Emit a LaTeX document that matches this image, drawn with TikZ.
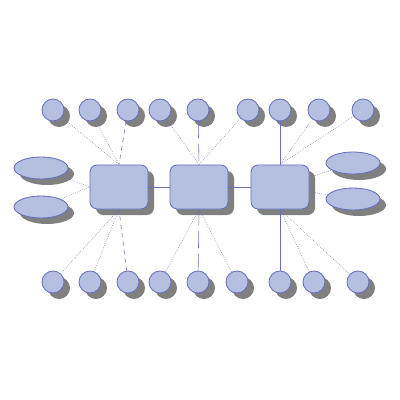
\documentclass[tikz,border=0pt]{standalone}
\usepackage{tikz}
\usetikzlibrary{shapes.geometric}
\usetikzlibrary{shadows}
\definecolor{mfill}{rgb}{0.71, 0.75, 0.88}
\definecolor{mline}{rgb}{0.4, 0.44, 0.75}
\definecolor{mshadow}{rgb}{0.5, 0.5, 0.5}

\begin{document}
\begin{tikzpicture}[x=0.025cm, y=-0.025cm,
    blob/.style={fill=mfill, draw=mline, semithick,
      drop shadow={shadow xshift=0.15cm, shadow yshift=-0.15cm, fill=mshadow, opacity=1}},
    hub/.style={blob, rectangle, rounded corners=0.18cm, minimum width=1.45cm, minimum height=1.1cm, inner sep=0pt},
    leaf/.style={blob, circle, minimum size=0.55cm, inner sep=0pt},
    pod/.style={blob, ellipse, minimum width=1.35cm, minimum height=0.55cm, inner sep=0pt},
    link/.style={mline, thin}]
    \useasboundingbox (0, 0) rectangle (400, 400);

    \node [hub] (hubA) at (119, 187) {};
    \node [hub] (hubB) at (199, 187) {};
    \node [hub] (hubC) at (280, 187) {};

    \node [pod] (podA) at (41, 168) {};
    \node [pod] (podB) at (41, 207) {};
    \node [pod] (podC) at (353, 163) {};
    \node [pod] (podD) at (353, 199) {};

    \node [leaf] (top1) at (53, 110) {};
    \node [leaf] (top2) at (90, 110) {};
    \node [leaf] (top3) at (128, 110) {};
    \node [leaf] (top4) at (160, 110) {};
    \node [leaf] (top5) at (198, 110) {};
    \node [leaf] (top6) at (248, 110) {};
    \node [leaf] (top7) at (280, 110) {};
    \node [leaf] (top8) at (319, 110) {};
    \node [leaf] (top9) at (363, 110) {};

    \node [leaf] (bot1) at (53, 282) {};
    \node [leaf] (bot2) at (90, 282) {};
    \node [leaf] (bot3) at (128, 282) {};
    \node [leaf] (bot4) at (160, 282) {};
    \node [leaf] (bot5) at (198, 282) {};
    \node [leaf] (bot6) at (237, 282) {};
    \node [leaf] (bot7) at (280, 282) {};
    \node [leaf] (bot8) at (314, 282) {};
    \node [leaf] (bot9) at (358, 282) {};

    \draw [link] (hubA) -- (hubB);
    \draw [link] (hubB) -- (hubC);

    \draw [link, densely dotted] (podA) -- (hubA.west);
    \draw [link, densely dotted] (podB) -- (hubA.west);
    \draw [link, densely dotted] (hubC) -- (podC);
    \draw [link, densely dotted] (hubC) -- (podD);

    \draw [link, densely dotted] (top1) -- (hubA.north);
    \draw [link, densely dotted] (top2) -- (hubA.north);
    \draw [link, dashed] (top3) -- (hubA.north);
    \draw [link, densely dotted] (top4) -- (hubB.north);
    \draw [link, dash pattern=on 12pt off 4pt] (top5) -- (hubB.north);
    \draw [link, densely dotted] (top6) -- (hubB.north);
    \draw [link] (top7) -- (hubC.north);
    \draw [link, densely dotted] (top8) -- (hubC.north);
    \draw [link, densely dotted] (top9) -- (hubC.north);

    \draw [link, densely dotted] (bot1) -- (hubA.south);
    \draw [link, densely dotted] (bot2) -- (hubA.south);
    \draw [link, dashed] (bot3) -- (hubA.south);
    \draw [link, densely dotted] (bot4) -- (hubB.south);
    \draw [link, dash pattern=on 12pt off 4pt] (bot5) -- (hubB.south);
    \draw [link, densely dotted] (bot6) -- (hubB.south);
    \draw [link] (bot7) -- (hubC.south);
    \draw [link, densely dotted] (bot8) -- (hubC.south);
    \draw [link, densely dotted] (bot9) -- (hubC.south);
  \end{tikzpicture}
\end{document}
